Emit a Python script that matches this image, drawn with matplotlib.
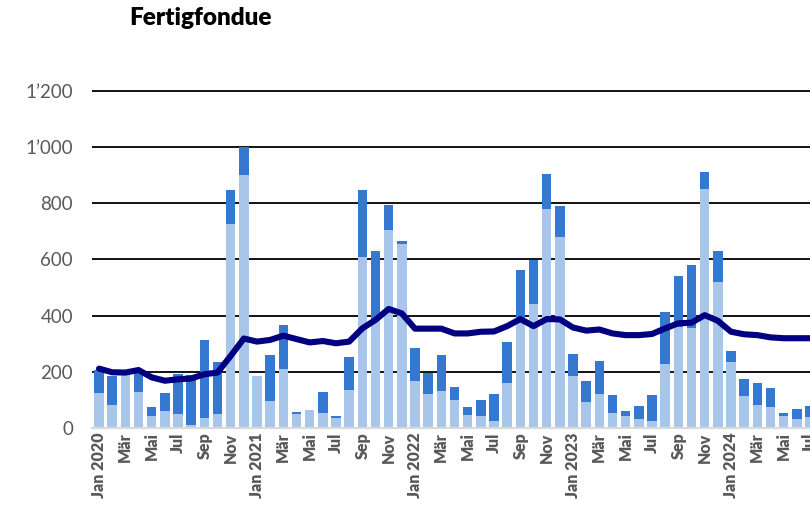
import matplotlib.pyplot as plt
import numpy as np

# monthly values Jan 2020 .. Jul 2024
month_abbr = ['Jan', 'Feb', 'Mär', 'Apr', 'Mai', 'Jun',
              'Jul', 'Aug', 'Sep', 'Okt', 'Nov', 'Dez']
years = [2020, 2021, 2022, 2023, 2024]
n_months = 55

light = [127, 83, 190, 129, 45, 62, 52, 12, 37, 50, 725, 899,
         187, 98, 211, 51, 65, 56, 36, 136, 608, 390, 706, 653,
         169, 121, 133, 101, 46, 44, 25, 162, 385, 440, 778, 679,
         186, 92, 121, 56, 45, 34, 25, 227, 360, 355, 851, 518,
         234, 114, 83, 77, 44, 34, 40]
dark = [80, 104, 0, 81, 32, 62, 141, 177, 277, 187, 123, 101,
        0, 162, 156, 8, 0, 73, 8, 117, 238, 241, 87, 12,
        115, 77, 127, 45, 31, 57, 97, 144, 176, 158, 126, 109,
        79, 76, 118, 62, 15, 46, 92, 185, 182, 226, 61, 111,
        40, 61, 79, 67, 10, 35, 38]
trend = [212, 199, 198, 207, 181, 169, 174, 177, 192, 198, 257, 319,
         308, 314, 329, 317, 305, 310, 302, 308, 355, 385, 424, 408,
         354, 354, 354, 337, 337, 343, 344, 363, 388, 363, 388, 387,
         358, 347, 351, 337, 331, 331, 335, 355, 373, 375, 402, 382,
         343, 334, 331, 323, 320, 320, 320]

yticks = [0, 200, 400, 600, 800, 1000, 1200]
ytick_labels = ['0', '200', '400', '600', '800', '1’000', '1’200']

plt.rcParams['font.family'] = ['Lato', 'DejaVu Sans']

labels = []
for i in range(n_months):
    m = month_abbr[i % 12]
    if i % 12 == 0:
        m = f'{m} {years[i // 12]}'
    labels.append(m)

x = np.arange(n_months)

fig = plt.figure(figsize=(8.1, 5.05), dpi=100)
ax = fig.add_axes([0.1141, 0.1519, 0.8859, 0.6800])

ax.bar(x, light, width=0.72, color='#a8c6ea', zorder=2)
ax.bar(x, dark, width=0.72, bottom=light, color='#3479cf', zorder=2)
ax.plot(x, trend, color='#000080', linewidth=4.4, solid_joinstyle='round',
        solid_capstyle='round', zorder=3)

ax.set_xlim(-0.5, 53.86)
ax.set_ylim(0, 1220)
ax.set_yticks(yticks)
ax.set_yticklabels(ytick_labels)
ax.set_xticks(x[::2])
ax.set_xticklabels(labels[::2], rotation=90, fontweight='heavy', fontsize=11.5,
                   color='#595959', va='top')
ax.tick_params(axis='y', length=0, pad=14, labelsize=13.5, labelcolor='#595959')
ax.tick_params(axis='x', length=0, pad=3)

ax.grid(axis='y', color='black', linewidth=1.3, zorder=0)
ax.set_axisbelow(True)
for side in ['top', 'right', 'left']:
    ax.spines[side].set_visible(False)
ax.spines['bottom'].set_color('#d9d9d9')
ax.spines['bottom'].set_linewidth(1.5)
ax.spines['bottom'].set_zorder(4)

fig.text(129 / 810, 1 - 18 / 505, 'Fertigfondue', fontsize=17.5,
         fontweight='heavy', va='center', ha='left')

fig.savefig('out.png', dpi=100)
